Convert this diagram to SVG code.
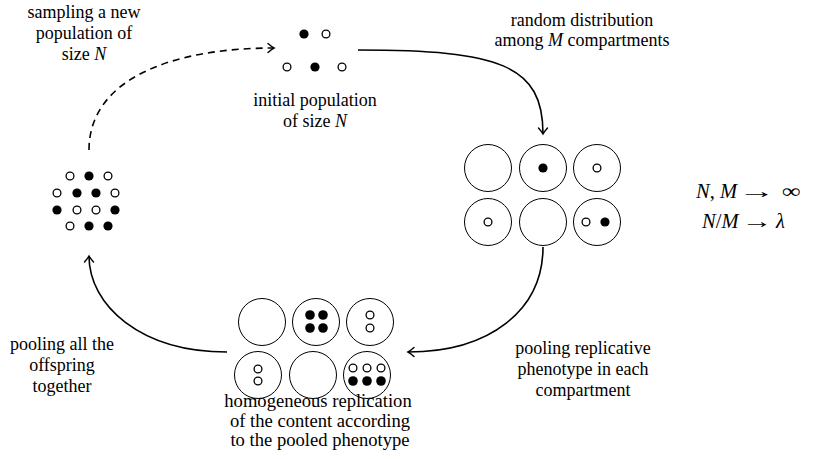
<svg xmlns="http://www.w3.org/2000/svg" width="829" height="459" viewBox="0 0 829 459" font-family="'Liberation Serif', 'DejaVu Serif', 'Times New Roman', serif">
<defs>
<style>
text{font-family:'Liberation Serif','DejaVu Serif','Times New Roman',serif;font-size:18px;fill:#000;text-anchor:middle}
.it{font-style:italic}
.comp{fill:#fff;stroke:#000;stroke-width:1}
.f{fill:#000}
.o{fill:#fff;stroke:#000;stroke-width:1.3}
.edge{fill:none;stroke:#000;stroke-width:1.6}
.dash{stroke-dasharray:7 5}
.math{font-size:20.5px;text-anchor:start}
.sym{font-size:20.5px;text-anchor:middle}
.big{font-size:18.6px}
</style>
<marker id="arr" viewBox="-8 -6 10 12" markerWidth="10" markerHeight="12" refX="0" refY="0" orient="auto" markerUnits="userSpaceOnUse">
<path d="M-6,-4.5 Q-2,-1 0,0 Q-2,1 -6,4.5" fill="none" stroke="#000" stroke-width="1.4" stroke-linecap="round"/>
</marker>
</defs>
<rect width="829" height="459" fill="#fff"/>

<g id="connectors">
<path class="edge" d="M358,50 C500,50 543,65 543,134" marker-end="url(#arr)"/>
<path class="edge" d="M543,247 C543,310 490,352 408,352" marker-end="url(#arr)"/>
<path class="edge" d="M227,352 C140,352 89,305 89,256" marker-end="url(#arr)"/>
<path class="edge dash" d="M89,150 C89,80 170,48 274,48" marker-end="url(#arr)"/>
</g>

<g id="initial-population">
<circle class="f" cx="304" cy="34" r="4.6"/>
<circle class="o" cx="326" cy="34" r="3.9"/>
<circle class="o" cx="287" cy="67" r="3.9"/>
<circle class="f" cx="315" cy="67" r="4.6"/>
<circle class="o" cx="342" cy="67" r="3.9"/>
<text x="315" y="106">initial population</text>
<text x="315" y="127">of size <tspan class="it">N</tspan></text>
</g>

<g id="compartments">
<circle class="comp" cx="488" cy="168" r="23.5"/>
<circle class="comp" cx="543" cy="168" r="23.5"/>
<circle class="f" cx="543" cy="168" r="4.6"/>
<circle class="comp" cx="597" cy="168" r="23.5"/>
<circle class="o" cx="597" cy="168" r="3.9"/>
<circle class="comp" cx="488" cy="222" r="23.5"/>
<circle class="o" cx="488" cy="222" r="3.9"/>
<circle class="comp" cx="543" cy="222" r="23.5"/>
<circle class="comp" cx="597" cy="222" r="23.5"/>
<circle class="o" cx="586" cy="222" r="3.9"/>
<circle class="f" cx="605" cy="222" r="4.6"/>
</g>

<g id="limits">
<text class="math" x="696" y="198"><tspan class="it">N</tspan>, <tspan class="it">M</tspan></text>
<text class="sym" transform="translate(757,198) scale(1.8,1)" x="0" y="0">→</text>
<text class="sym" transform="translate(791,198) scale(1.3,1)" x="0" y="0">∞</text>
<text class="math" x="702" y="228"><tspan class="it">N</tspan>/<tspan class="it">M</tspan></text>
<text class="sym" transform="translate(757,228) scale(1.5,1)" x="0" y="0">→</text>
<text class="math it" x="776" y="228">λ</text>
</g>

<g id="replicated">
<circle class="comp" cx="262" cy="322" r="23.5"/>
<circle class="comp" cx="316" cy="322" r="23.5"/>
<circle class="f" cx="310" cy="315" r="4.8"/>
<circle class="f" cx="323" cy="315" r="4.8"/>
<circle class="f" cx="310" cy="328" r="4.8"/>
<circle class="f" cx="323" cy="328" r="4.8"/>
<circle class="comp" cx="370" cy="322" r="23.5"/>
<circle class="o" cx="370" cy="315" r="3.9"/>
<circle class="o" cx="370" cy="328" r="3.9"/>
<circle class="comp" cx="258" cy="375" r="23.5"/>
<circle class="o" cx="258" cy="369" r="3.9"/>
<circle class="o" cx="258" cy="381" r="3.9"/>
<circle class="comp" cx="313" cy="375" r="23.5"/>
<circle class="comp" cx="367" cy="375" r="23.5"/>
<circle class="o" cx="353" cy="368" r="3.9"/>
<circle class="o" cx="367" cy="368" r="3.9"/>
<circle class="o" cx="381" cy="368" r="3.9"/>
<circle class="f" cx="353" cy="381" r="4.8"/>
<circle class="f" cx="367" cy="381" r="4.8"/>
<circle class="f" cx="381" cy="381" r="4.8"/>
<text class="big" x="318" y="407">homogeneous replication</text>
<text class="big" x="320" y="427">of the content according</text>
<text class="big" x="320" y="446">to the pooled phenotype</text>
</g>

<g id="pool">
<circle class="o" cx="70" cy="176" r="3.9"/>
<circle class="f" cx="89" cy="176" r="4.6"/>
<circle class="o" cx="108" cy="176" r="3.9"/>
<circle class="o" cx="57" cy="193" r="3.9"/>
<circle class="f" cx="77" cy="193" r="4.6"/>
<circle class="f" cx="96" cy="193" r="4.6"/>
<circle class="o" cx="115" cy="193" r="3.9"/>
<circle class="f" cx="57" cy="210" r="4.6"/>
<circle class="o" cx="77" cy="210" r="3.9"/>
<circle class="o" cx="96" cy="210" r="3.9"/>
<circle class="f" cx="115" cy="210" r="4.6"/>
<circle class="o" cx="70" cy="226" r="3.9"/>
<circle class="f" cx="89" cy="226" r="4.6"/>
<circle class="f" cx="108" cy="226" r="4.6"/>
</g>

<g id="labels">
<text x="84" y="18">sampling a new</text>
<text x="84" y="39">population of</text>
<text x="84" y="60">size <tspan class="it">N</tspan></text>
<text x="582" y="26">random distribution</text>
<text x="582" y="46">among <tspan class="it">M</tspan> compartments</text>
<text x="583" y="354">pooling replicative</text>
<text x="583" y="375">phenotype in each</text>
<text x="583" y="396">compartment</text>
<text x="62" y="350">pooling all the</text>
<text x="62" y="371">offspring</text>
<text x="62" y="392">together</text>
</g>
</svg>
